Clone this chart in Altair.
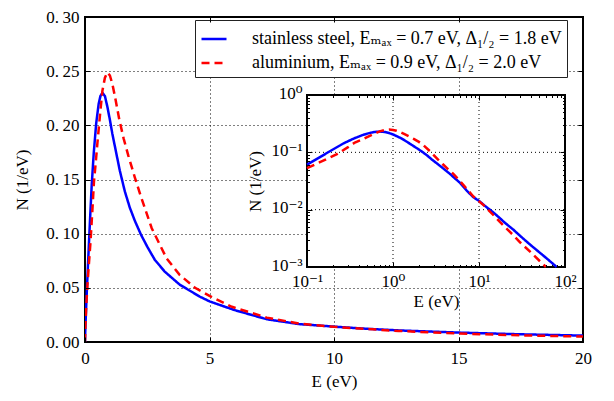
import json
import altair as alt
import pandas as pd

FONT = "'Liberation Serif', 'Times New Roman', 'DejaVu Serif', serif"
FS = 17

series_names = [
    "stainless steel, Eₘₐₓ = 0.7 eV, Δ₁/₂ = 1.8 eV",
    "aluminium, Eₘₐₓ = 0.9 eV, Δ₁/₂ = 2.0 eV",
]
series_colors = ["#0000ff", "#ff0000"]

E_ss = [0, 0.01, 0.02, 0.05, 0.1, 0.15, 0.2, 0.27, 0.35, 0.45, 0.55, 0.62, 0.7, 0.8,
        0.9, 1.0, 1.1, 1.25, 1.4, 1.6, 1.8, 2.0, 2.25, 2.5, 2.8, 3.2, 3.8, 4.6, 5.0,
        6.0, 7.3, 8.6, 10, 11.3, 12.6, 15, 17.5, 20, 25, 30, 40, 60, 80, 100]
N_ss = [0, 0.009, 0.016, 0.034, 0.061, 0.087, 0.112, 0.145, 0.174, 0.202, 0.220, 0.227,
        0.230, 0.227, 0.217, 0.205, 0.192, 0.175, 0.158, 0.139, 0.124, 0.112, 0.099,
        0.088, 0.076, 0.065, 0.053, 0.042, 0.0375, 0.0295, 0.021, 0.0165, 0.0142,
        0.0122, 0.0107, 0.0087, 0.0071, 0.0059, 0.0045, 0.0035, 0.0024, 0.00145,
        0.0010, 0.00075]

E_al = [0, 0.01, 0.02, 0.05, 0.1, 0.15, 0.22, 0.3, 0.36, 0.44, 0.5, 0.56, 0.62, 0.7,
        0.8, 0.9, 1.0, 1.1, 1.2, 1.38, 1.55, 1.74, 2.0, 2.25, 2.68, 3.28, 3.8, 4.42,
        5.0, 5.9, 7.3, 8.6, 10, 11.3, 12.6, 15, 17.5, 20, 25, 30, 40, 60, 80, 100]
N_al = [0, 0.010, 0.017, 0.033, 0.053, 0.070, 0.092, 0.123, 0.148, 0.168, 0.184, 0.199,
        0.214, 0.232, 0.244, 0.249, 0.246, 0.238, 0.227, 0.205, 0.188, 0.172, 0.152,
        0.134, 0.105, 0.077, 0.062, 0.050, 0.0425, 0.0325, 0.0225, 0.0170, 0.0140,
        0.0120, 0.0102, 0.0078, 0.0061, 0.0050, 0.0036, 0.0027, 0.0018, 0.0010,
        0.00066, 0.00047]

main_x_ticks = [0, 5, 10, 15, 20]
main_y_ticks = [0.0, 0.05, 0.10, 0.15, 0.20, 0.25, 0.30]
inset_x_decades = [0.1, 1, 10, 100]
inset_x_labels = ["10⁻¹", "10⁰", "10¹", "10²"]
inset_y_decades = [0.001, 0.01, 0.1, 1]
inset_y_labels = ["10⁻³", "10⁻²", "10⁻¹", "10⁰"]

# layout (pixels inside the main plot area)
W, H = 498, 325
IX0, IX1, IY0, IY1 = 222, 480, 78, 250

df = pd.concat([
    pd.DataFrame({"E": E_ss, "N": N_ss, "series": series_names[0]}),
    pd.DataFrame({"E": E_al, "N": N_al, "series": series_names[1]}),
], ignore_index=True)
main_df = df[df["E"] <= 20]
inset_df = df[(df["E"] >= inset_x_decades[0]) & (df["N"] >= inset_y_decades[0])]

color_scale = alt.Scale(domain=series_names, range=series_colors)
dash_scale = alt.Scale(domain=series_names, range=[[1, 0], [8, 5]])

legend = alt.Legend(
    orient="none", legendX=110, legendY=3, title=None, symbolType="stroke",
    symbolSize=625, symbolStrokeWidth=2.5, labelFont=FONT, labelFontSize=18,
    labelLimit=800, padding=5, strokeColor="#222222", fillColor="white",
    rowPadding=1, labelOffset=24, labelColor="black",
)

x_main = alt.Scale(domain=[0, 20], nice=False, zero=False)
y_main = alt.Scale(domain=[0, 0.3], nice=False)


def tick_axis(orient, offset, values, size=5):
    return alt.Axis(orient=orient, offset=offset, values=values, labels=False,
                    ticks=True, tickSize=size, tickColor="black", tickWidth=1,
                    domain=False, grid=False, title=None, zindex=2)


main_line = alt.Chart(main_df).mark_line(strokeWidth=2.5, clip=True).encode(
    x=alt.X("E:Q", scale=x_main, axis=alt.Axis(
        values=main_x_ticks, format="d", grid=True, gridDash=[1, 3],
        gridColor="black", gridWidth=1, ticks=False, domain=False,
        labelFlush=False, labelPadding=8, title="E (eV)", titlePadding=7)),
    y=alt.Y("N:Q", scale=y_main, axis=alt.Axis(
        values=main_y_ticks, grid=True, gridDash=[1, 3], gridColor="black",
        gridWidth=1, ticks=False, domain=False, labelPadding=6, labelFlush=False,
        labelExpr="replace(format(datum.value, '.2f'), '.', '.\u2009')",
        title="N (1/eV)", titlePadding=14)),
    color=alt.Color("series:N", scale=color_scale, legend=legend),
    strokeDash=alt.StrokeDash("series:N", scale=dash_scale, legend=legend),
)
main_ticks_a = alt.Chart(main_df).mark_point(opacity=0).encode(
    x=alt.X("E:Q", scale=x_main, axis=tick_axis("top", -H, main_x_ticks)),
    y=alt.Y("N:Q", scale=y_main, axis=tick_axis("right", -W, main_y_ticks)),
)
main_ticks_b = alt.Chart(main_df).mark_point(opacity=0).encode(
    x=alt.X("E:Q", scale=x_main, axis=tick_axis("bottom", -H, main_x_ticks)),
    y=alt.Y("N:Q", scale=y_main, axis=tick_axis("left", -W, main_y_ticks)),
)
main = alt.layer(main_line, main_ticks_a, main_ticks_b).resolve_axis(
    x="independent", y="independent")

# ---------------- inset ----------------
x_in = alt.Scale(type="log", domain=[inset_x_decades[0], inset_x_decades[-1]],
                 range=[IX0, IX1], nice=False)
y_in = alt.Scale(type="log", domain=[inset_y_decades[0], inset_y_decades[-1]],
                 range=[IY1, IY0], nice=False)

x_all = sorted({round(m * d, 6) for d in inset_x_decades[:-1] for m in range(1, 10)}
               | {inset_x_decades[-1]})
y_all = sorted({round(m * d, 6) for d in inset_y_decades[:-1] for m in range(1, 10)}
               | {inset_y_decades[-1]})
MAJOR = "abs(log(datum.value)/LN10 - round(log(datum.value)/LN10)) < 0.001"
log_tick_size = {"condition": {"test": MAJOR, "value": 5}, "value": 2.5}


def log_tick_axis(orient, offset, values):
    return alt.Axis(orient=orient, offset=offset, values=values, labels=False,
                    ticks=True, tickSize=log_tick_size, tickColor="black",
                    tickWidth=1, domain=False, grid=False, title=None, zindex=2)


def lab_expr(decades, labels):
    return "%s[indexof(%s, datum.value)]" % (
        json.dumps(labels, ensure_ascii=False), json.dumps(decades))


rect_df = pd.DataFrame({"x0": [inset_x_decades[0]], "x1": [inset_x_decades[-1]],
                        "y0": [inset_y_decades[0]], "y1": [inset_y_decades[-1]]})
inset_box = alt.Chart(rect_df).mark_rect(fill="white", stroke="black",
                                         strokeWidth=2).encode(
    x=alt.X("x0:Q", scale=x_in, axis=alt.Axis(
        orient="bottom", offset=IY1 - H, values=inset_x_decades,
        labelExpr=lab_expr(inset_x_decades, inset_x_labels), ticks=False,
        domain=False, grid=False, labelPadding=6, labelFlush=False,
        labelOverlap=False, title="E (eV)", titlePadding=4, zindex=2)),
    x2="x1",
    y=alt.Y("y0:Q", scale=y_in, axis=alt.Axis(
        orient="left", offset=-IX0, values=inset_y_decades,
        labelExpr=lab_expr(inset_y_decades, inset_y_labels), ticks=False,
        domain=False, grid=False, labelPadding=5, labelFlush=False,
        labelBaseline="alphabetic", labelOffset=3,
        labelOverlap=False, title="N (1/eV)", titlePadding=6, zindex=2)),
    y2="y1",
)

gx_df = pd.DataFrame({"g": inset_x_decades[1:-1], "y0": inset_y_decades[0],
                      "y1": inset_y_decades[-1]})
gy_df = pd.DataFrame({"g": inset_y_decades[1:-1], "x0": inset_x_decades[0],
                      "x1": inset_x_decades[-1]})
grid_x = alt.Chart(gx_df).mark_rule(strokeDash=[1, 3], color="black",
                                    strokeWidth=1).encode(
    x=alt.X("g:Q", scale=x_in, axis=log_tick_axis("top", -IY1, x_all)),
    y=alt.Y("y0:Q", scale=y_in, axis=log_tick_axis("right", IX0 - W, y_all)),
    y2="y1",
)
grid_y = alt.Chart(gy_df).mark_rule(strokeDash=[1, 3], color="black",
                                    strokeWidth=1).encode(
    y=alt.Y("g:Q", scale=y_in, axis=log_tick_axis("left", -IX1, y_all)),
    x=alt.X("x0:Q", scale=x_in, axis=log_tick_axis("bottom", IY0 - H, x_all)),
    x2="x1",
)
inset_line = alt.Chart(inset_df).mark_line(strokeWidth=2.5).encode(
    x=alt.X("E:Q", scale=x_in, axis=None),
    y=alt.Y("N:Q", scale=y_in, axis=None),
    color=alt.Color("series:N", scale=color_scale, legend=None),
    strokeDash=alt.StrokeDash("series:N", scale=dash_scale, legend=None),
)
inset = alt.layer(inset_box, grid_x, grid_y, inset_line).resolve_axis(
    x="independent", y="independent")

chart = alt.layer(main, inset).resolve_scale(
    x="independent", y="independent"
).properties(
    width=W, height=H,
    autosize=alt.AutoSizeParams(type="none"),
    padding={"left": 77, "top": 9, "right": 15, "bottom": 50},
    background="white",
).configure_view(
    stroke="black", strokeWidth=2
).configure_axis(
    labelFont=FONT, titleFont=FONT, labelFontSize=FS, titleFontSize=FS,
    titleFontWeight="normal", labelColor="black", titleColor="black",
).configure_legend(
    labelFont=FONT
)

chart.save("out.html", embed_options={"renderer": "svg", "actions": False})
